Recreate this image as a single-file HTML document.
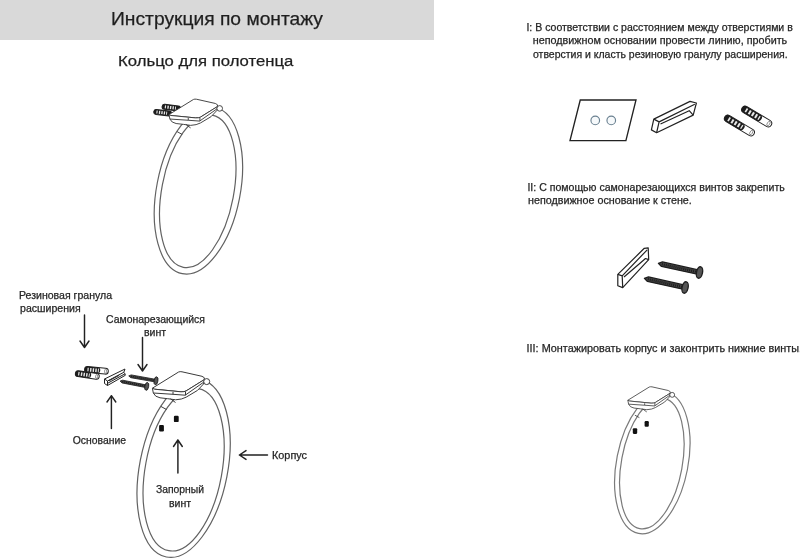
<!DOCTYPE html>
<html><head><meta charset="utf-8">
<style>
html,body{margin:0;padding:0;background:#fff;width:800px;height:560px;overflow:hidden}
svg{display:block;will-change:transform}
text{font-family:"Liberation Sans",sans-serif;fill:#262626;stroke:#262626;stroke-width:0.25}
</style></head>
<body>
<svg width="800" height="560" viewBox="0 0 800 560">
<defs>
<g id="mount" stroke="#3a3a3a" stroke-width="1" stroke-linejoin="round" fill="none">
  <path fill="#fff" d="M152.4,388.2 L178.6,372 Q180,371.4 182,371.8 L202,376.3 Q205.5,377.5 204.3,379.6 L186,391 Q184.4,391.9 181,391.8 L154.5,389.2 Q152.4,389 152.4,388.2 Z"/>
  <path fill="#fff" d="M152.4,388.2 L153.3,393 Q155,397 160,397.8 L167.7,398.7 L175.6,399.8 Q182,399.5 186.1,397.2 L197.5,390.4 L203.5,384 L204.3,379.6 L186,391 Q184.4,391.9 181,391.8 L154.5,389.2 Z"/>
  <path d="M153.3,393 L173,394.3 L185.2,395.2 L203.2,382.5 M173,391.9 L173,394.3 M185.5,391.6 L185.5,395.2"/>
  <path d="M170.5,398.8 L175.5,402.5 M161,406.5 L166.5,409.5"/>
  <circle cx="206.7" cy="381.6" r="3" fill="#fff"/>
</g>
</defs>
<rect x="0" y="0" width="434" height="40" fill="#d9d9d9"/>
<text x="111.0" y="25.0" font-size="18.3" textLength="212.0" lengthAdjust="spacingAndGlyphs" style="fill:#1e1e1e">Инструкция по монтажу</text>
<text x="118.0" y="66.4" font-size="15.3" textLength="175.4" lengthAdjust="spacingAndGlyphs" style="fill:#1e1e1e">Кольцо для полотенца</text>
<text x="526.4" y="30.6" font-size="10.2" textLength="266.41" lengthAdjust="spacingAndGlyphs">I: В соответствии с расстоянием между отверстиями в</text>
<text x="532.8" y="44.0" font-size="10.2" textLength="254.4" lengthAdjust="spacingAndGlyphs">неподвижном основании провести линию, пробить</text>
<text x="533.0" y="57.5" font-size="10.2" textLength="254.6" lengthAdjust="spacingAndGlyphs">отверстия и класть резиновую гранулу расширения.</text>
<text x="527.4" y="190.6" font-size="10.2" textLength="257.41" lengthAdjust="spacingAndGlyphs">II: С помощью самонарезающихся винтов закрепить</text>
<text x="528.0" y="203.9" font-size="10.2" textLength="163.82" lengthAdjust="spacingAndGlyphs">неподвижное основание к стене.</text>
<text x="526.6" y="351.6" font-size="10.2" textLength="275.42" lengthAdjust="spacingAndGlyphs">III: Монтажировать корпус и законтрить нижние винты.</text>
<text x="19.0" y="298.9" font-size="10.2" textLength="93.03" lengthAdjust="spacingAndGlyphs">Резиновая гранула</text>
<text x="20.0" y="312.2" font-size="10.2" textLength="60.63" lengthAdjust="spacingAndGlyphs">расширения</text>
<text x="106.0" y="322.6" font-size="10.2" textLength="99.0" lengthAdjust="spacingAndGlyphs">Самонарезающийся</text>
<text x="144.0" y="335.75" font-size="10.2" textLength="22.07" lengthAdjust="spacingAndGlyphs">винт</text>
<text x="72.8" y="443.8" font-size="10.2" textLength="53.21" lengthAdjust="spacingAndGlyphs">Основание</text>
<text x="156.0" y="492.6" font-size="10.2" textLength="48.0" lengthAdjust="spacingAndGlyphs">Запорный</text>
<text x="169.0" y="506.9" font-size="10.2" textLength="22.05" lengthAdjust="spacingAndGlyphs">винт</text>
<text x="272.0" y="458.75" font-size="10.2" textLength="35.04" lengthAdjust="spacingAndGlyphs">Корпус</text>

<g fill="none" stroke="#222" stroke-width="1.45" stroke-linecap="round" stroke-linejoin="round">
  <path d="M84.5,315 L84.5,347.5 M80,341 L84.5,347.5 L89,341"/>
  <path d="M142.5,337.5 L142.5,371 M138,364.5 L142.5,371 L147,364.5"/>
  <path d="M111.4,428.6 L111.4,395.7 M107,402 L111.4,395.7 L115.8,402"/>
  <path d="M177.9,473 L177.9,440 M173.5,446.5 L177.9,440 L182.3,446.5"/>
  <path d="M267.5,455 L239.4,455 M246,450.6 L239.4,455 L246,459.4"/>
</g>

<g fill="none" stroke="#626262" stroke-width="1.2"><ellipse cx="183.62" cy="468.41" rx="44.04" ry="90.24" transform="rotate(11.03 183.62 468.41)"/><ellipse cx="183.62" cy="469.65" rx="38.31" ry="82.38" transform="rotate(10.4 183.62 469.65)"/></g><use href="#mount"/>
<g fill="#111"><rect x="159.1" y="424.9" width="4.8" height="6.6" rx="1.2"/><rect x="173.9" y="415.8" width="4.8" height="6.3" rx="1.2"/></g>
<g transform="translate(84.60,369.30) rotate(5.06)"><rect x="0.00" y="-3.00" width="23.79" height="6.00" rx="3.00" fill="#fff" stroke="#222" stroke-width="1"/><rect x="0.00" y="-3.00" width="15.70" height="6.00" rx="2.70" fill="#1c1c1c"/><rect x="2.86" y="-1.86" width="1.19" height="3.72" fill="#e8e8e8"/><rect x="5.47" y="-1.86" width="1.43" height="3.72" fill="#e8e8e8"/><rect x="8.09" y="-1.86" width="1.43" height="3.72" fill="#e8e8e8"/><rect x="10.71" y="-1.86" width="1.43" height="3.72" fill="#e8e8e8"/><rect x="13.32" y="-1.86" width="0.95" height="3.72" fill="#e8e8e8"/><ellipse cx="21.09" cy="0" rx="1.05" ry="2.10" fill="none" stroke="#555" stroke-width="0.6"/></g>
<g transform="translate(75.40,373.20) rotate(8.60)"><rect x="0.00" y="-2.90" width="24.07" height="5.80" rx="2.90" fill="#fff" stroke="#222" stroke-width="1"/><rect x="0.00" y="-2.90" width="15.89" height="5.80" rx="2.61" fill="#1c1c1c"/><rect x="2.89" y="-1.80" width="1.20" height="3.60" fill="#e8e8e8"/><rect x="5.54" y="-1.80" width="1.44" height="3.60" fill="#e8e8e8"/><rect x="8.18" y="-1.80" width="1.44" height="3.60" fill="#e8e8e8"/><rect x="10.83" y="-1.80" width="1.44" height="3.60" fill="#e8e8e8"/><rect x="13.48" y="-1.80" width="0.96" height="3.60" fill="#e8e8e8"/><ellipse cx="21.46" cy="0" rx="1.01" ry="2.03" fill="none" stroke="#555" stroke-width="0.6"/></g>

<g stroke="#222" stroke-width="1" fill="#fff" stroke-linejoin="round">
  <path d="M104.5,379 L125,369 L123.8,372.3 L125,373.8 L125.3,375.3 L107.5,385.5 L104.5,383.5 Z"/>
  <path fill="none" d="M104.5,379 L107.5,381 L107.5,385.5 M107.5,381 L123.8,372.3 M107.8,383.2 L125,373.8"/>
  <path fill="none" stroke="#333" stroke-width="1.3" d="M109,380.8 L119,375.3"/>
</g>

<g transform="translate(128.75,375.90) rotate(10.09)"><path d="M0,0 L2.24,-1.40 L26.54,-1.33 L26.54,1.33 L2.24,1.40 Z" fill="#454545" stroke="#1e1e1e" stroke-width="0.78" stroke-linejoin="round"/><line x1="2.10" y1="0" x2="25.78" y2="0" stroke="#1e1e1e" stroke-width="1.40" stroke-dasharray="1.1 0.9"/><ellipse cx="27.68" cy="0" rx="1.90" ry="4.00" fill="#555" stroke="#1e1e1e" stroke-width="0.85"/></g>
<g transform="translate(120.10,381.10) rotate(11.25)"><path d="M0,0 L2.24,-1.40 L26.03,-1.33 L26.03,1.33 L2.24,1.40 Z" fill="#454545" stroke="#1e1e1e" stroke-width="0.78" stroke-linejoin="round"/><line x1="2.10" y1="0" x2="25.27" y2="0" stroke="#1e1e1e" stroke-width="1.40" stroke-dasharray="1.1 0.9"/><ellipse cx="27.17" cy="0" rx="1.90" ry="4.00" fill="#555" stroke="#1e1e1e" stroke-width="0.85"/></g>
<g transform="translate(162.10,106.50) rotate(6.82)"><rect x="0.00" y="-2.50" width="18.53" height="5.00" rx="2.50" fill="#fff" stroke="#222" stroke-width="1"/><rect x="0.00" y="-2.50" width="18.53" height="5.00" rx="2.25" fill="#1c1c1c"/><rect x="2.78" y="-1.55" width="1.16" height="3.10" fill="#e8e8e8"/><rect x="5.33" y="-1.55" width="1.39" height="3.10" fill="#e8e8e8"/><rect x="7.88" y="-1.55" width="1.39" height="3.10" fill="#e8e8e8"/><rect x="10.42" y="-1.55" width="1.39" height="3.10" fill="#e8e8e8"/><rect x="12.97" y="-1.55" width="0.93" height="3.10" fill="#e8e8e8"/></g>
<g transform="translate(153.80,111.60) rotate(7.09)"><rect x="0.00" y="-2.50" width="17.84" height="5.00" rx="2.50" fill="#fff" stroke="#222" stroke-width="1"/><rect x="0.00" y="-2.50" width="17.84" height="5.00" rx="2.25" fill="#1c1c1c"/><rect x="2.68" y="-1.55" width="1.11" height="3.10" fill="#e8e8e8"/><rect x="5.13" y="-1.55" width="1.34" height="3.10" fill="#e8e8e8"/><rect x="7.58" y="-1.55" width="1.34" height="3.10" fill="#e8e8e8"/><rect x="10.03" y="-1.55" width="1.34" height="3.10" fill="#e8e8e8"/><rect x="12.49" y="-1.55" width="0.89" height="3.10" fill="#e8e8e8"/></g>
<g fill="none" stroke="#626262" stroke-width="1.2"><ellipse cx="198.42" cy="190.46" rx="41.83" ry="84.79" transform="rotate(10.98 198.42 190.46)"/><ellipse cx="197.75" cy="191.22" rx="35.97" ry="77.45" transform="rotate(10.74 197.75 191.22)"/></g><use href="#mount" transform="translate(26.85,-247.63) scale(0.933)"/>
<g fill="none" stroke="#7a7a7a" stroke-width="1.2"><ellipse cx="652.32" cy="462.85" rx="35.71" ry="71.93" transform="rotate(11.13 652.32 462.85)"/><ellipse cx="651.85" cy="463.47" rx="30.42" ry="66.28" transform="rotate(10.52 651.85 463.47)"/></g><use href="#mount" transform="translate(503.5,83.47) scale(0.816)"/>
<g fill="#111"><rect x="632.8" y="428.2" width="4.4" height="5.7" rx="1.1"/><rect x="644.6" y="421.1" width="4.2" height="5.7" rx="1.1"/></g>
<path d="M580.25,100 L636,100 L625.9,140.6 L570,140.6 Z" fill="none" stroke="#222" stroke-width="1.35"/>
<g fill="#f6f9fb" stroke="#6a8090" stroke-width="1.15"><circle cx="595.25" cy="120.4" r="4.3"/><circle cx="611.25" cy="120.4" r="4.3"/></g>

<g stroke="#222" stroke-width="1.2" fill="#fff" stroke-linejoin="round">
  <path d="M653.8,119.1 L690,101.4 L696.4,103 L693.2,115.1 L656.6,132.75 L651.4,129.9 Z"/>
  <path fill="none" d="M653.8,119.1 L659.1,121.9 L656.6,132.75 M659.1,121.9 L694.8,104.2 M660.5,124 L689.2,110.7 L693.2,115.1"/>
</g>

<g transform="translate(745.20,109.60) rotate(30.96)"><rect x="-3.50" y="-3.50" width="33.82" height="7.00" rx="3.50" fill="#fff" stroke="#222" stroke-width="1"/><rect x="-3.50" y="-3.50" width="22.32" height="7.00" rx="3.15" fill="#1c1c1c"/><rect x="0.56" y="-2.17" width="1.69" height="4.34" fill="#e8e8e8"/><rect x="4.28" y="-2.17" width="2.03" height="4.34" fill="#e8e8e8"/><rect x="8.00" y="-2.17" width="2.03" height="4.34" fill="#e8e8e8"/><rect x="11.72" y="-2.17" width="2.03" height="4.34" fill="#e8e8e8"/><rect x="15.44" y="-2.17" width="1.35" height="4.34" fill="#e8e8e8"/><ellipse cx="27.17" cy="0" rx="1.22" ry="2.45" fill="none" stroke="#555" stroke-width="0.6"/></g>
<g transform="translate(727.90,118.60) rotate(30.96)"><rect x="-3.50" y="-3.50" width="33.82" height="7.00" rx="3.50" fill="#fff" stroke="#222" stroke-width="1"/><rect x="-3.50" y="-3.50" width="22.32" height="7.00" rx="3.15" fill="#1c1c1c"/><rect x="0.56" y="-2.17" width="1.69" height="4.34" fill="#e8e8e8"/><rect x="4.28" y="-2.17" width="2.03" height="4.34" fill="#e8e8e8"/><rect x="8.00" y="-2.17" width="2.03" height="4.34" fill="#e8e8e8"/><rect x="11.72" y="-2.17" width="2.03" height="4.34" fill="#e8e8e8"/><rect x="15.44" y="-2.17" width="1.35" height="4.34" fill="#e8e8e8"/><ellipse cx="27.17" cy="0" rx="1.22" ry="2.45" fill="none" stroke="#555" stroke-width="0.6"/></g>

<g stroke="#222" stroke-width="1.2" fill="#fff" stroke-linejoin="round">
  <path d="M617.8,274.4 L644.3,248.3 L648.2,247.9 L648.7,259.6 L622.7,287.6 L617.8,285.7 Z"/>
  <path fill="none" d="M617.8,274.4 L622.2,275.9 L622.7,287.6 M622.2,275.9 L647.2,249.8 M624,277 L645.5,258.5 L648.7,259.6"/>
</g>

<g transform="translate(658.40,263.40) rotate(12.48)"><path d="M0,0 L3.68,-2.30 L40.30,-2.18 L40.30,2.18 L3.68,2.30 Z" fill="#454545" stroke="#1e1e1e" stroke-width="1.29" stroke-linejoin="round"/><line x1="3.45" y1="0" x2="39.10" y2="0" stroke="#1e1e1e" stroke-width="2.30" stroke-dasharray="1.1 0.9"/><ellipse cx="42.10" cy="0" rx="3.00" ry="5.80" fill="#555" stroke="#1e1e1e" stroke-width="1.35"/></g>
<g transform="translate(644.40,278.40) rotate(12.60)"><path d="M0,0 L3.68,-2.30 L39.90,-2.18 L39.90,2.18 L3.68,2.30 Z" fill="#454545" stroke="#1e1e1e" stroke-width="1.29" stroke-linejoin="round"/><line x1="3.45" y1="0" x2="38.70" y2="0" stroke="#1e1e1e" stroke-width="2.30" stroke-dasharray="1.1 0.9"/><ellipse cx="41.70" cy="0" rx="3.00" ry="5.80" fill="#555" stroke="#1e1e1e" stroke-width="1.35"/></g>
</svg>
</body></html>
